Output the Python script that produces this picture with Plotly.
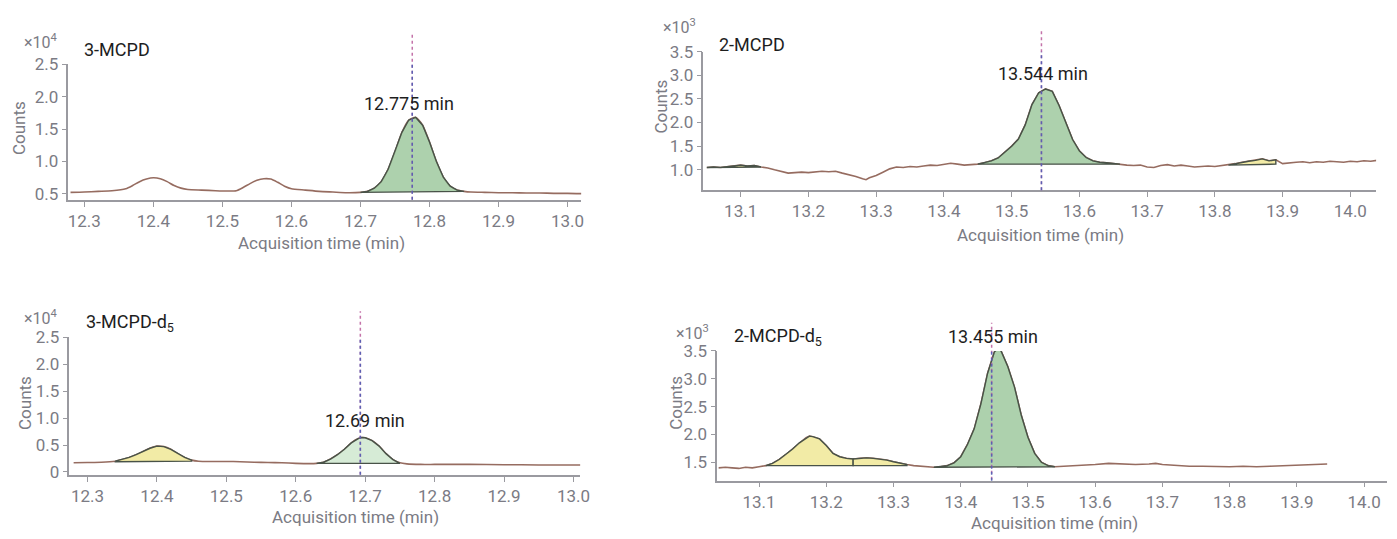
import plotly.graph_objects as go

# ---------------- data ----------------
# Panel 1: 3-MCPD (counts x10^4)
t1 = [12.28, 12.30, 12.32, 12.34, 12.36, 12.37, 12.38, 12.39, 12.40, 12.41, 12.42, 12.43, 12.44, 12.45,
      12.47, 12.49, 12.51, 12.52, 12.53, 12.54, 12.55, 12.56, 12.57, 12.58, 12.59, 12.60, 12.62, 12.64,
      12.66, 12.68, 12.70, 12.71, 12.72, 12.73, 12.74, 12.75, 12.76, 12.77, 12.78, 12.79, 12.80, 12.81,
      12.82, 12.83, 12.84, 12.85, 12.86, 12.88, 12.90, 12.92, 12.94, 12.96, 12.98, 13.00, 13.02]
c1 = [0.525, 0.53, 0.54, 0.55, 0.58, 0.63, 0.69, 0.73, 0.75, 0.735, 0.69, 0.63, 0.59, 0.57,
      0.56, 0.55, 0.545, 0.55, 0.60, 0.66, 0.71, 0.735, 0.73, 0.68, 0.62, 0.58, 0.56, 0.54,
      0.53, 0.52, 0.525, 0.54, 0.59, 0.69, 0.88, 1.15, 1.45, 1.64, 1.68, 1.56, 1.30, 1.00,
      0.76, 0.62, 0.56, 0.54, 0.53, 0.525, 0.52, 0.52, 0.515, 0.515, 0.51, 0.51, 0.505]

# Panel 2: 2-MCPD (counts x10^3)
t2 = [13.05, 13.06, 13.07, 13.08, 13.09, 13.10, 13.11, 13.12, 13.13, 13.14, 13.15, 13.16, 13.17, 13.18,
      13.19, 13.20, 13.21, 13.22, 13.23, 13.24, 13.25, 13.26, 13.27, 13.28, 13.285, 13.29, 13.30, 13.31,
      13.32, 13.33, 13.34, 13.35, 13.36, 13.37, 13.38, 13.39, 13.40, 13.41, 13.42, 13.43, 13.44, 13.45,
      13.46, 13.47, 13.48, 13.49, 13.50, 13.51, 13.52, 13.53, 13.54, 13.55, 13.56, 13.57, 13.58, 13.59,
      13.60, 13.61, 13.62, 13.63, 13.64, 13.65, 13.66, 13.67, 13.68, 13.69, 13.70, 13.71, 13.72, 13.73,
      13.74, 13.75, 13.76, 13.77, 13.78, 13.79, 13.80, 13.81, 13.82, 13.83, 13.84, 13.85, 13.86, 13.87,
      13.88, 13.89, 13.90, 13.91, 13.92, 13.93, 13.94, 13.95, 13.96, 13.97, 13.98, 13.99, 14.00, 14.01,
      14.02, 14.03, 14.04]
c2 = [1.05, 1.06, 1.05, 1.07, 1.08, 1.10, 1.08, 1.09, 1.06, 1.04, 1.00, 0.96, 0.93, 0.94,
      0.95, 0.94, 0.96, 0.97, 0.96, 0.97, 0.93, 0.90, 0.86, 0.81, 0.79, 0.83, 0.88, 0.95,
      1.02, 1.06, 1.05, 1.07, 1.06, 1.08, 1.10, 1.09, 1.11, 1.14, 1.12, 1.10, 1.11, 1.12,
      1.15, 1.19, 1.25, 1.37, 1.50, 1.65, 1.95, 2.38, 2.63, 2.71, 2.66, 2.36, 1.98, 1.64,
      1.40, 1.26, 1.19, 1.16, 1.15, 1.13, 1.12, 1.10, 1.09, 1.10, 1.06, 1.05, 1.09, 1.11,
      1.08, 1.10, 1.08, 1.06, 1.07, 1.08, 1.07, 1.09, 1.10, 1.13, 1.16, 1.18, 1.20, 1.23,
      1.19, 1.21, 1.13, 1.15, 1.16, 1.17, 1.15, 1.17, 1.16, 1.18, 1.17, 1.16, 1.18, 1.17,
      1.19, 1.18, 1.20]

# Panel 3: 3-MCPD-d5 (counts x10^4)
t3 = [12.28, 12.30, 12.32, 12.34, 12.35, 12.36, 12.37, 12.38, 12.39, 12.40, 12.41, 12.42, 12.43, 12.44,
      12.45, 12.46, 12.48, 12.50, 12.52, 12.54, 12.56, 12.58, 12.60, 12.62, 12.63, 12.64, 12.65, 12.66,
      12.67, 12.68, 12.69, 12.695, 12.70, 12.71, 12.72, 12.73, 12.74, 12.75, 12.76, 12.78, 12.80, 12.85,
      12.90, 12.95, 13.00, 13.01]
c3 = [0.17, 0.175, 0.18, 0.20, 0.23, 0.27, 0.32, 0.38, 0.44, 0.48, 0.47, 0.42, 0.34, 0.27,
      0.22, 0.20, 0.195, 0.195, 0.19, 0.18, 0.175, 0.17, 0.16, 0.155, 0.16, 0.18, 0.24, 0.32,
      0.42, 0.54, 0.62, 0.64, 0.635, 0.58, 0.48, 0.34, 0.23, 0.17, 0.15, 0.14, 0.14, 0.14,
      0.135, 0.13, 0.13, 0.13]

# Panel 4: 2-MCPD-d5 (counts x10^3)
t4 = [13.04, 13.05, 13.06, 13.07, 13.08, 13.09, 13.10, 13.11, 13.12, 13.13, 13.14, 13.15, 13.16, 13.17,
      13.175, 13.18, 13.19, 13.20, 13.21, 13.22, 13.23, 13.24, 13.25, 13.26, 13.27, 13.28, 13.29, 13.30,
      13.31, 13.32, 13.33, 13.34, 13.35, 13.36, 13.37, 13.38, 13.39, 13.40, 13.41, 13.42, 13.43, 13.44,
      13.45, 13.455, 13.46, 13.47, 13.48, 13.49, 13.50, 13.51, 13.52, 13.53, 13.54, 13.56, 13.58, 13.60,
      13.62, 13.64, 13.66, 13.68, 13.69, 13.70, 13.72, 13.74, 13.76, 13.78, 13.80, 13.82, 13.84, 13.86,
      13.88, 13.90, 13.92, 13.94, 13.945]
c4 = [1.40, 1.41, 1.40, 1.39, 1.41, 1.40, 1.42, 1.44, 1.48, 1.55, 1.64, 1.74, 1.85, 1.94,
      1.97, 1.96, 1.92, 1.80, 1.66, 1.60, 1.57, 1.56, 1.57, 1.58, 1.57, 1.56, 1.54, 1.51,
      1.48, 1.46, 1.44, 1.43, 1.42, 1.41, 1.42, 1.44, 1.49, 1.60, 1.82, 2.10, 2.55, 3.10,
      3.48, 3.54, 3.50, 3.22, 2.85, 2.35, 1.95, 1.66, 1.50, 1.44, 1.42, 1.43, 1.44, 1.46,
      1.48, 1.47, 1.46, 1.47, 1.48, 1.46, 1.44, 1.43, 1.43, 1.42, 1.42, 1.43, 1.42, 1.43,
      1.44, 1.44, 1.45, 1.46, 1.47]

names = ["3-MCPD", "2-MCPD", "3-MCPD-d<sub>5</sub>", "2-MCPD-d<sub>5</sub>"]
exponents = ["×10<sup>4</sup>", "×10<sup>3</sup>", "×10<sup>4</sup>", "×10<sup>3</sup>"]
rt_labels = ["12.775 min", "13.544 min", "12.69 min", "13.455 min"]
rt_lines = [12.775, 13.544, 12.693, 13.446]

# integrated regions: (t_start, t_end, baseline_start, baseline_end, kind)
regions1 = [(12.70, 12.85, 0.525, 0.54, "g")]
regions2 = [(13.05, 13.13, 1.05, 1.06, "y"), (13.45, 13.66, 1.12, 1.12, "g"), (13.82, 13.89, 1.10, 1.12, "y")]
regions3 = [(12.34, 12.45, 0.19, 0.20, "y"), (12.63, 12.75, 0.16, 0.16, "gl")]
regions4 = [(13.11, 13.24, 1.44, 1.44, "y"), (13.24, 13.32, 1.44, 1.44, "y"), (13.36, 13.54, 1.41, 1.42, "g")]

xticks_a = [12.3, 12.4, 12.5, 12.6, 12.7, 12.8, 12.9, 13.0]
xticks_b = [13.1, 13.2, 13.3, 13.4, 13.5, 13.6, 13.7, 13.8, 13.9, 14.0]
yticks1 = [0.5, 1.0, 1.5, 2.0, 2.5]
yticks2 = [1.0, 1.5, 2.0, 2.5, 3.0, 3.5]
yticks3 = [0, 0.5, 1.0, 1.5, 2.0, 2.5]
yticks4 = [1.5, 2.0, 2.5, 3.0, 3.5]

# ---------------- layout helpers ----------------
W, H = 1397, 539
def fx(p):
    return p / W
def fy(p):
    return 1 - p / H

panels = [
    dict(t=t1, c=c1, reg=regions1, xt=xticks_a, yt=yticks1, xr=[12.277, 13.02], yr=[0.41, 2.5],
         dom_x=[68, 585], dom_y=[56, 196], vline=[25, 196], shape="spline",
         exp=(40, 33), name=(82, 41), counts=(18, 122), xtitle=(323, 241), rt=(411, 97)),
    dict(t=t2, c=c2, reg=regions2, xt=xticks_b, yt=yticks2, xr=[13.045, 14.038], yr=[0.57, 3.5],
         dom_x=[708, 1386], dom_y=[43, 186], vline=[20, 186], shape="linear",
         exp=(684, 17), name=(722, 36), counts=(665, 100), xtitle=(1048, 232), rt=(1050, 66)),
    dict(t=t3, c=c3, reg=regions3, xt=xticks_a, yt=yticks3, xr=[12.274, 13.01], yr=[-0.054, 2.5],
         dom_x=[69, 584], dom_y=[338, 480], vline=[311, 480], shape="spline",
         exp=(40, 317), name=(84, 323), counts=(24, 406), xtitle=(357, 523), rt=(367, 424)),
    dict(t=t4, c=c4, reg=regions4, xt=xticks_b, yt=yticks4, xr=[13.038, 14.034], yr=[1.17, 3.5],
         dom_x=[722, 1397], dom_y=[352, 486], vline=[323, 485], shape="linear",
         exp=(697, 333), name=(737, 338), counts=(681, 406), xtitle=(1062, 530), rt=(1000, 337)),
]

FONT = "Roboto"
TICK_COLOR = "#7b7b84"
AXIS_COLOR = "#9a9aa0"
TRACE_COLOR = "rgb(150,108,96)"
OUTLINE = "rgb(72,82,72)"
FILLS = {"g": "rgba(150,196,150,0.78)", "gl": "rgba(200,228,200,0.75)", "y": "rgba(240,232,150,0.85)"}

fig = go.Figure()
annotations = []
shapes = []

for i, p in enumerate(panels, start=1):
    xa = "x" if i == 1 else f"x{i}"
    ya = "y" if i == 1 else f"y{i}"
    line_kw = dict(color=TRACE_COLOR, width=1.6, shape=p["shape"])
    if p["shape"] == "spline":
        line_kw["smoothing"] = 0.6
    fig.add_trace(go.Scatter(x=p["t"], y=p["c"], mode="lines", xaxis=xa, yaxis=ya,
                             line=line_kw, hoverinfo="skip", showlegend=False))
    for (ts, te, bs, be, kind) in p["reg"]:
        seg_t = [t for t in p["t"] if ts <= t <= te]
        seg_c = [c for t, c in zip(p["t"], p["c"]) if ts <= t <= te]
        xs = seg_t + [seg_t[-1], seg_t[0], seg_t[0]]
        ys = seg_c + [be, bs, seg_c[0]]
        fig.add_trace(go.Scatter(x=xs, y=ys, mode="lines", fill="toself", fillcolor=FILLS[kind],
                                 xaxis=xa, yaxis=ya,
                                 line=dict(color=OUTLINE, width=1.4),
                                 hoverinfo="skip", showlegend=False))
    rt = rt_lines[i - 1]
    shapes.append(dict(type="line", xref=xa, yref="paper", x0=rt, x1=rt,
                       y0=fy(p["vline"][1]), y1=fy(p["vline"][0]),
                       line=dict(color="rgba(190,100,160,0.9)", width=1.5, dash="dot")))
    shapes.append(dict(type="line", xref=xa, yref=f"{ya} domain", x0=rt, x1=rt, y0=0, y1=1,
                       line=dict(color="rgba(80,95,180,0.9)", width=1.5, dash="dot")))

    axis_common = dict(showline=True, linecolor=AXIS_COLOR, linewidth=1.5, ticks="outside",
                       ticklen=5, tickwidth=1.2, tickcolor=AXIS_COLOR, showgrid=False, zeroline=False,
                       tickfont=dict(family=FONT, size=17, color=TICK_COLOR), fixedrange=True)
    fig.update_layout(**{
        ("xaxis" if i == 1 else f"xaxis{i}"): dict(
            domain=[fx(p["dom_x"][0]), fx(p["dom_x"][1])], range=p["xr"], anchor=ya,
            tickvals=p["xt"], ticktext=[f"{v:.1f}" for v in p["xt"]], **axis_common),
        ("yaxis" if i == 1 else f"yaxis{i}"): dict(
            domain=[fy(p["dom_y"][1]), fy(p["dom_y"][0])], range=p["yr"], anchor=xa,
            tickvals=p["yt"], ticktext=[("0" if v == 0 else f"{v:.1f}") for v in p["yt"]],
            **axis_common),
    })

    annotations += [
        dict(x=fx(p["exp"][0]), y=fy(p["exp"][1]), xref="paper", yref="paper", text=exponents[i - 1],
             showarrow=False, font=dict(family=FONT, size=16, color=TICK_COLOR), xanchor="center", yanchor="middle"),
        dict(x=fx(p["name"][0]), y=fy(p["name"][1]), xref="paper", yref="paper", text=names[i - 1],
             showarrow=False, font=dict(family=FONT, size=18, color="#1e1e1e"), xanchor="left", yanchor="middle"),
        dict(x=fx(p["counts"][0]), y=fy(p["counts"][1]), xref="paper", yref="paper", text="Counts",
             textangle=-90, showarrow=False, font=dict(family=FONT, size=17, color=TICK_COLOR),
             xanchor="center", yanchor="middle"),
        dict(x=fx(p["xtitle"][0]), y=fy(p["xtitle"][1]), xref="paper", yref="paper",
             text="Acquisition time (min)", showarrow=False,
             font=dict(family=FONT, size=17, color=TICK_COLOR), xanchor="center", yanchor="middle"),
        dict(x=fx(p["rt"][0]), y=fy(p["rt"][1]), xref="paper", yref="paper", text=rt_labels[i - 1],
             showarrow=False, font=dict(family=FONT, size=18, color="#1e1e1e"), xanchor="center", yanchor="middle"),
    ]

fig.update_layout(width=W, height=H, margin=dict(l=0, r=0, t=0, b=0), paper_bgcolor="white",
                  plot_bgcolor="white", annotations=annotations, shapes=shapes, showlegend=False)

post = "document.body.style.margin='0';document.body.style.overflow='hidden';"
fig.write_html("out.html", config={"displayModeBar": False}, post_script=post)
